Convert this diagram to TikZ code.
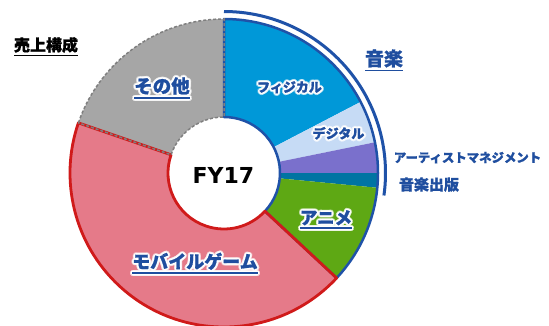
\documentclass[tikz,border=0pt]{standalone}
\usepackage{fontspec}
\newfontfamily\jp{Noto Sans CJK JP}
\newfontfamily\dv{DejaVu Sans}
\usetikzlibrary{calc}
\definecolor{physc}{HTML}{0098D8}
\definecolor{digic}{HTML}{C6DBF5}
\definecolor{purpc}{HTML}{7A70CC}
\definecolor{tealc}{HTML}{0074A2}
\definecolor{greenc}{HTML}{5EA814}
\definecolor{pinkc}{HTML}{E57A89}
\definecolor{grayc}{HTML}{A6A6A6}
\definecolor{dgrayc}{HTML}{7F7F7F}
\definecolor{blueln}{HTML}{1F52A8}
\definecolor{redln}{HTML}{D01A1A}
\definecolor{lblue}{HTML}{1F4E9F}
\newcommand\sectorpath[2]{([shift={(224,152)}]#1:154) arc[start angle=#1,end angle=#2,radius=154] -- ([shift={(224,152)}]#2:56) arc[start angle=#2,end angle=#1,radius=56] -- cycle}
\newcommand\ulx[1]{\vtop{\hbox{#1}\kern0.12em\hrule height 0.09em}}
\tikzset{
  lbl/.style={text=lblue, inner sep=0pt, anchor=base, font=\jp\bfseries},
  glowc/.style={text=white, inner sep=0pt, anchor=base, font=\jp\bfseries},
  blk/.style={text=black, inner sep=0pt, anchor=base, font=\jp\bfseries}
}
\newcommand\glowlbl[4]{%
  \foreach \gang in {0,30,...,330}{\node[glowc, opacity=0.5] at ([shift={(\gang:2.3)}]#2) {\fontsize{#3}{#3}\selectfont\addfontfeature{FakeBold=1}#4};}%
  \foreach \gang in {0,30,...,330}{\node[glowc] at ([shift={(\gang:1.2)}]#2) {\fontsize{#3}{#3}\selectfont\addfontfeature{FakeBold=1}#4};}%
  \node[lbl] (#1) at (#2) {\fontsize{#3}{#3}\selectfont\addfontfeature{FakeBold=1}#4};%
}
\begin{document}
\begin{tikzpicture}[x=1pt,y=1pt]
\useasboundingbox (0,0) rectangle (549,325);
\fill[white] (0,0) rectangle (549,325);
\clip (0,0) rectangle (549,325);
% segments
\fill[physc] \sectorpath{90}{27.5};
\fill[digic] \sectorpath{27.5}{11.5};
\fill[purpc] \sectorpath{11.5}{0};
\fill[tealc] \sectorpath{0}{-5.5};
\fill[greenc] \sectorpath{-5.5}{-43};
\fill[pinkc] \sectorpath{-43}{-199};
\fill[grayc] \sectorpath{161}{90};
% outlines
\draw[blueln, line width=2.5, line join=round] \sectorpath{90}{-43};
\draw[redln, line width=2.8, line join=round] \sectorpath{-43}{-199};
\draw[dgrayc, line width=1.5, dash pattern=on 3pt off 2pt] \sectorpath{161}{90};
% music group arc
\draw[blueln, line width=3] ([shift={(224,152)}]90:161.5) arc[start angle=90,end angle=-8,radius=161.5];
% labels
\node[blk] (title) at (46,274) {\fontsize{16}{16}\selectfont\addfontfeature{FakeBold=1}\ulx{売上構成}};
\glowlbl{other}{162,232}{18.5}{\ulx{その他}}
\node[lbl] (music) at (384,259.3) {\fontsize{19}{19}\selectfont\addfontfeature{FakeBold=1}\ulx{音楽}};
\glowlbl{phys}{289.5,233}{13}{フィジカル}
\glowlbl{digi}{338.5,186.6}{13}{デジタル}
\node[lbl] (artist) at (467.5,162.8) {\fontsize{12.4}{12.4}\selectfont\addfontfeature{FakeBold=1}アーティストマネジメント};
\node[lbl] (pub) at (429,134.8) {\fontsize{15}{15}\selectfont\addfontfeature{FakeBold=1}音楽出版};
\glowlbl{anime}{326,100.8}{17.5}{\ulx{アニメ}}
\glowlbl{mobile}{195,56.7}{18}{\ulx{モバイルゲーム}}
\node[inner sep=0pt, anchor=base, font=\dv\bfseries\fontsize{22}{22}\selectfont] (fy) at (223.5,142) {FY17};
\end{tikzpicture}
\end{document}
